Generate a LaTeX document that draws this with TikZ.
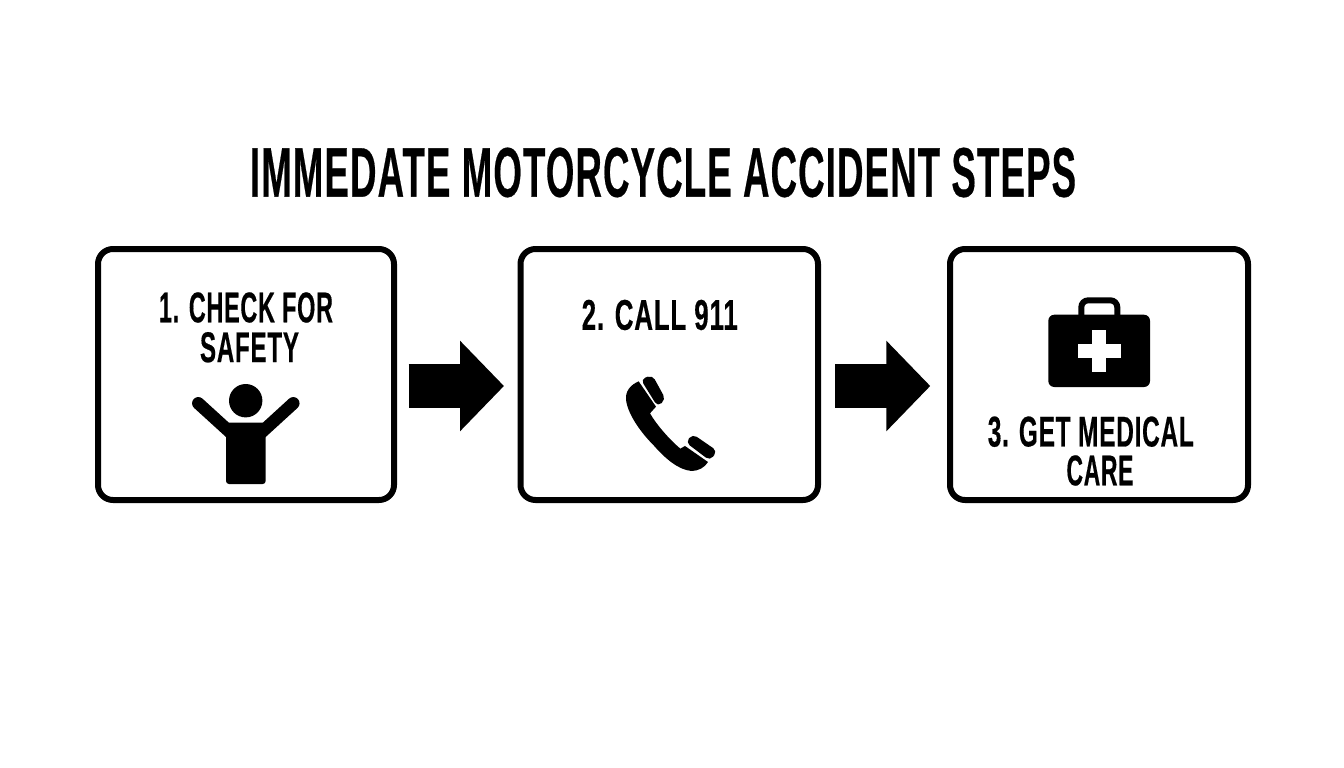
\documentclass[tikz,border=0pt]{standalone}
\usepackage{fontspec}
\usepackage{graphicx}
\setmainfont{Liberation Sans Bold}[FakeBold=0.5,LetterSpace=3]
\usetikzlibrary{arrows.meta}
\tikzset{
  x=1pt,y=-1pt,
  stepbox/.style={draw=black,line width=6pt,rounded corners=15pt,fill=white,minimum width=296pt,minimum height=251pt,outer sep=0pt,inner sep=0pt},
  label/.style={inner sep=0pt,outer sep=0pt,text=black},
  blockarrow/.style={draw=black,line width=44pt,-{Triangle[length=44pt,width=88pt]}},
  icon/.style={fill=black,draw=none},
}
\begin{document}
\begin{tikzpicture}
\useasboundingbox (0,0) rectangle (1344,768);
\fill[white] (0,0) rectangle (1344,768);
\node[stepbox] (a) at (246,374.5) {};
\node[stepbox,minimum width=297.5pt] (b) at (669.25,374.5) {};
\node[stepbox,minimum width=298pt] (c) at (1099,374.5) {};
\node[label] (title) at (663,172.5) {\resizebox{826pt}{49pt}{IMMEDATE MOTORCYCLE ACCIDENT STEPS}};
\node[label] (t1a) at (246,307.5) {\resizebox{174pt}{30pt}{1. CHECK FOR}};
\node[label] (t1b) at (249.5,347.3) {\resizebox{99pt}{30pt}{SAFETY}};
\node[label] (t2) at (659.7,315) {\resizebox{156pt}{30pt}{2. CALL 911}};
\node[label] (t3a) at (1090.8,431.7) {\resizebox{206pt}{30pt}{3. GET MEDICAL}};
\node[label] (t3b) at (1100,470.5) {\resizebox{67pt}{30pt}{CARE}};
\draw[blockarrow,shorten <=14.7pt,shorten >=16.5pt] ([yshift=-11.5pt]a.east) -- ([yshift=-11.5pt]b.west);
\draw[blockarrow,shorten <=17pt,shorten >=19.7pt] ([yshift=-11.5pt]b.east) -- ([yshift=-11.5pt]c.west);
% person
\fill[icon] (245.7,400.7) circle[radius=16.7];
\fill[icon,rounded corners=3pt] (226,422.7) -- (265.7,422.7) -- (265.7,484) -- (226,484) -- cycle;
\draw[line width=12.5pt,line cap=round] (198.3,403.3) -- (232,434);
\draw[line width=12.5pt,line cap=round] (293.3,403.3) -- (259.7,434);
% phone
\begin{scope}[shift={(620,370)},x=0.3333pt,y=-0.3333pt]
\fill[icon] (56,34) .. controls (30,45) and (16,65) .. (18,88) .. controls (22,130) and (60,185) .. (100,225) .. controls (135,265) and (175,300) .. (215,303) .. controls (235,303) and (255,292) .. (264,276) -- (195,228) -- (181,236) .. controls (150,210) and (110,165) .. (90,130) -- (108,110) -- cycle;
\fill[icon,rounded corners=5pt] (62,28) -- (97,15) -- (137,88) -- (113,110) -- cycle;
\fill[icon,rounded corners=5pt] (197,217) -- (218,192) -- (292,243) -- (270,272) -- cycle;
\end{scope}
% kit
\fill[icon,rounded corners=6pt] (1048.3,314.7) rectangle (1150,387);
\draw[line width=6pt,rounded corners=7pt] (1081.3,316) -- (1081.3,300.3) -- (1117.3,300.3) -- (1117.3,316);
\fill[white] (1077.7,344) rectangle (1120.7,358);
\fill[white] (1092.3,329.7) rectangle (1106,372);
\end{tikzpicture}
\end{document}
